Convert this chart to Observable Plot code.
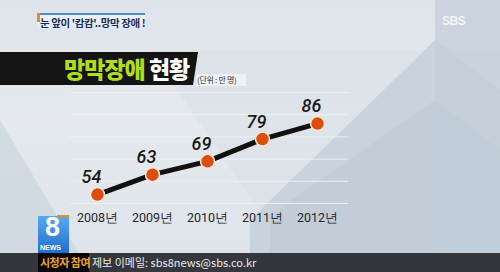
<!DOCTYPE html>
<html><head><meta charset="utf-8">
<script src="https://cdn.jsdelivr.net/npm/d3@7"></script>
<script src="https://cdn.jsdelivr.net/npm/@observablehq/plot@0.6"></script>
<style>
html,body{margin:0;padding:0;}
#wrap{position:relative;width:500px;height:272px;overflow:hidden;
 background:linear-gradient(180deg,#dfe4ea 0%,#e5e9ee 45%,#dde3e9 100%);
 font-family:"Noto Sans CJK KR","Noto Sans",sans-serif;}
.bg{position:absolute;left:0;top:0;width:500px;height:272px;}
#plot{position:absolute;left:0;top:0;}
.abs{position:absolute;}
</style></head><body>
<div id="wrap">
  <div class="bg" style="background:#cdd6df;clip-path:polygon(0 120px,90px 272px,0 272px);opacity:.8"></div>
  <div class="bg" style="background:#d3dbe3;clip-path:polygon(150px 50px,500px 50px,500px 272px,300px 272px);opacity:.35"></div>
  <div class="bg" style="background:#c9d3dd;clip-path:polygon(435px 40px,500px 90px,500px 272px,250px 272px,250px 220px);"></div>
  <div class="bg" style="background:#c2cdd8;clip-path:polygon(435px 0,500px 0,500px 272px,435px 272px);opacity:.7"></div>
  <div class="bg" style="background:#bfcad6;clip-path:polygon(435px 100px,500px 150px,500px 272px,270px 272px,270px 215px);opacity:.7"></div>
  <div id="plot"></div>
  <!-- headline tag -->
  <div class="abs" style="left:37px;top:13px;width:108px;height:18px;background:linear-gradient(180deg,#eef3f8,#dbe6f1);border-top:2px solid #4a90c8;box-sizing:border-box;"></div>
  <div class="abs" style="left:37px;top:13px;width:3px;height:9px;background:#f08a20;"></div>
  <div class="abs" style="left:40px;top:15px;font-size:10.5px;font-weight:bold;color:#1f2f57;white-space:nowrap;letter-spacing:-0.4px;">눈 앞이 '캄캄'..망막 장애 !</div>
  <div class="abs" style="left:442px;top:14px;font-family:'Liberation Sans',sans-serif;font-weight:bold;font-size:12px;color:rgba(255,255,255,.75);letter-spacing:-0.5px;">SBS</div>
  <!-- title bar -->
  <div class="abs" style="left:0;top:52px;width:198px;height:33px;background:#141414;clip-path:polygon(0 0,198px 0,193px 33px,0 33px);"></div>
  <div class="abs" style="left:64px;top:51px;font-size:23px;font-weight:900;white-space:nowrap;letter-spacing:-1px;"><span style="color:#b0dc1c">망막장애</span> <span style="color:#fff">현황</span></div>
  <div class="abs" style="left:196px;top:74px;width:50px;height:12px;background:rgba(240,243,246,.9);"></div>
  <div class="abs" style="left:197px;top:74px;font-size:8px;color:#333;white-space:nowrap;letter-spacing:-0.3px;">(단위 : 만 명)</div>
  <!-- bottom bar -->
  <div class="abs" style="left:0;top:253px;width:500px;height:19px;background:rgba(38,40,44,.92);"></div>
  <div class="abs" style="left:38px;top:253px;width:51px;height:19px;background:#080808;"></div>
  <div class="abs" style="left:40px;top:254px;font-size:11px;font-weight:bold;color:#f0a22a;white-space:nowrap;letter-spacing:-0.5px;">시청자 참여</div>
  <div class="abs" style="left:92px;top:254px;font-size:11px;color:#eaeaea;white-space:nowrap;">제보 이메일: sbs8news@sbs.co.kr</div>
  <!-- 8 news logo -->
  <div class="abs" style="left:38px;top:216px;width:31px;height:37px;background:linear-gradient(180deg,#5aa8f0,#1f6fd0);"></div>
  <div class="abs" style="left:57px;top:215px;width:12px;height:2px;background:#f08a20;"></div>
  <div class="abs" style="left:45px;top:213px;line-height:28px;font-family:'Liberation Sans',sans-serif;font-weight:bold;font-size:27px;color:#fff;">8</div>
  <div class="abs" style="left:40px;top:244px;line-height:8px;font-family:'Liberation Sans',sans-serif;font-weight:bold;font-size:7px;color:#fff;">NEWS</div>
</div>
<script>
const years = [2008, 2009, 2010, 2011, 2012];
const values = [54, 63, 69, 79, 86];
const gridTicks = [50, 60, 70, 80, 90, 100];
const yearSuffix = "년";

const data = years.map((year, i) => ({year, value: values[i]}));
const fontNum = "Roboto, 'Liberation Sans', sans-serif";

const chart = Plot.plot({
  width: 500, height: 272,
  marginLeft: 70, marginRight: 152, marginTop: 0, marginBottom: 64,
  style: {background: "transparent", fontFamily: fontNum, overflow: "visible"},
  x: {type: "point", domain: years, range: [96, 318], padding: 0, axis: null},
  y: {domain: [50, 100], range: [203, 92], axis: null},
  marks: [
    Plot.ruleY(gridTicks, {stroke: "#eef1f4", strokeOpacity: 0.9, strokeWidth: 1}),
    Plot.line(data, {x: "year", y: "value", stroke: "#111", strokeWidth: 5}),
    Plot.dot(data, {x: "year", y: "value", r: 7, fill: "#de4d10", stroke: "#fbe9d6", strokeWidth: 1.5}),
    Plot.text(data, {x: "year", y: "value", text: d => String(d.value), dx: -6, dy: -17,
      fontSize: 18, fontStyle: "italic", fontWeight: 500, fill: "#1a1a1a", fontFamily: fontNum}),
    Plot.axisX({tickSize: 0, tickPadding: 5, fontSize: 12.5, color: "#262626",
      tickFormat: d => d + yearSuffix, label: null})
  ]
});
document.getElementById("plot").appendChild(chart);
</script>
</body></html>
